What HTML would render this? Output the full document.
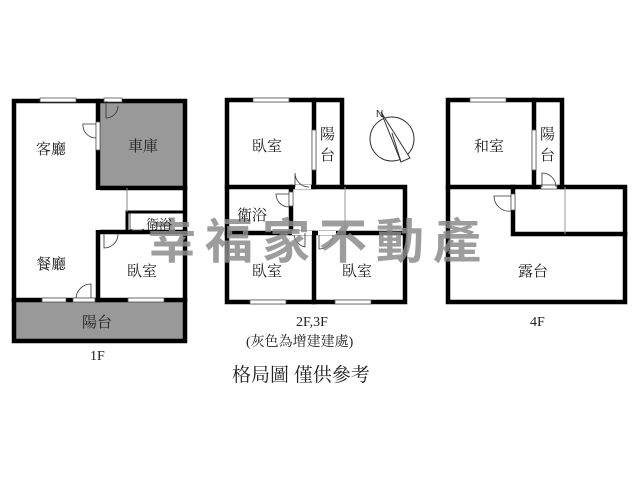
<!DOCTYPE html>
<html><head><meta charset="utf-8"><style>
body{margin:0;background:#fff}
svg text{font-family:"Liberation Serif","Noto Serif CJK SC","Noto Sans CJK TC",serif;fill:#222}
</style></head><body>
<svg width="640" height="480" viewBox="0 0 640 480" xmlns="http://www.w3.org/2000/svg">
<rect width="640" height="480" fill="#fff"/>
<!-- 1F -->
<rect x="98" y="100" width="87" height="88" fill="#999"/>
<rect x="12" y="300" width="173" height="42" fill="#999"/>
<g stroke="#000" stroke-width="4.5" fill="none" stroke-linecap="square">
<rect x="14" y="101" width="171" height="240"/>
<polyline points="98,101 98,188 185,188"/>
<line x1="14" y1="300" x2="185" y2="300"/>
<polyline points="98,300 98,232 185,232"/>
<line x1="127" y1="212" x2="185" y2="212" stroke-width="3"/>
</g>
<line x1="127" y1="188" x2="127" y2="212" stroke="#888" stroke-width="1"/>
<line x1="127" y1="212" x2="127" y2="230" stroke="#000" stroke-width="3"/>
<g fill="#fff" stroke="#555" stroke-width="0.8">
<rect x="40" y="98" width="36" height="4"/>
<rect x="104" y="98" width="18" height="4"/>
<rect x="96" y="122" width="4" height="28"/>
<rect x="42" y="298" width="24" height="4"/>
<rect x="73" y="298" width="22" height="4"/>
<rect x="128" y="298" width="36" height="4"/>
<rect x="96" y="190" width="4" height="40" stroke="none"/>
</g>
<g fill="none" stroke="#333" stroke-width="0.8">
<path d="M106 101 V118 A12 12 0 0 0 118 106"/>
<path d="M96 124 H83 A13 13 0 0 0 96 138"/>
<path d="M130 213 V229 A14 14 0 0 0 144 229"/>
<path d="M104 234 V248 A14 14 0 0 0 118 234"/>
<path d="M91 298 V284 A15 15 0 0 0 76 298"/>
</g>
<!-- 2F -->
<g stroke="#000" stroke-width="4.5" fill="none" stroke-linecap="square">
<polyline points="227,100 342,100 342,187 405,187 405,302 227,302 227,100"/>
<line x1="314" y1="100" x2="314" y2="187"/>
<line x1="227" y1="187" x2="342" y2="187"/>
<line x1="291" y1="187" x2="291" y2="233"/>
<line x1="227" y1="233" x2="405" y2="233"/>
<line x1="314" y1="233" x2="314" y2="302"/>
</g>
<line x1="345" y1="187" x2="345" y2="233" stroke="#999" stroke-width="1"/>
<g fill="#fff" stroke="#555" stroke-width="0.8">
<rect x="253" y="98" width="36" height="4"/>
<rect x="312" y="130" width="4" height="40"/>
<rect x="295" y="185" width="16" height="4" stroke="none"/>
<rect x="289" y="192" width="4" height="14"/>
<rect x="292" y="231" width="20" height="4" stroke="none"/>
<rect x="318" y="231" width="18" height="4" stroke="none"/>
<rect x="250" y="300" width="36" height="4"/>
<rect x="335" y="300" width="36" height="4"/>
</g>
<g fill="none" stroke="#333" stroke-width="0.8">
<path d="M295 187 V173 A14 14 0 0 0 309 187"/>
<path d="M289 194 H276 A13 13 0 0 0 289 207"/>
<path d="M294 235 A14 14 0 0 0 305 247 V233"/>
<path d="M319 235 V249 A14 14 0 0 0 333 235"/>
</g>
<!-- compass -->
<g stroke="#333" fill="none" stroke-width="1">
<circle cx="392" cy="139" r="22"/>
<path d="M381 112 L410 158 L401 162 Z" fill="#fff"/>
<line x1="392" y1="133" x2="401" y2="162" />
</g>
<text x="376" y="117" font-size="10" style="font-family:'Liberation Sans',sans-serif">N</text>
<!-- 4F -->
<g stroke="#000" stroke-width="4.5" fill="none" stroke-linecap="square">
<polyline points="448,100 562,100 562,187 625,187 625,302 448,302 448,100"/>
<line x1="534" y1="100" x2="534" y2="187"/>
<line x1="448" y1="187" x2="562" y2="187"/>
<polyline points="513,187 513,234 625,234"/>
</g>
<line x1="565" y1="187" x2="565" y2="234" stroke="#999" stroke-width="1"/>
<g fill="#fff" stroke="#555" stroke-width="0.8">
<rect x="470" y="98" width="36" height="4"/>
<rect x="532" y="130" width="4" height="40"/>
<rect x="541" y="185" width="16" height="4"/>
<rect x="511" y="194" width="4" height="16"/>
</g>
<g fill="none" stroke="#333" stroke-width="0.8">
<path d="M542 187 V173 A14 14 0 0 1 556 187"/>
<path d="M511 196 H494 A15 15 0 0 0 511 211"/>
</g>
<!-- watermark -->
<text x="148" y="258" font-size="48" font-weight="bold" style="font-family:'Noto Sans CJK TC',sans-serif;fill:#8c8c8c;opacity:0.85" letter-spacing="9">幸福家不動產</text>
<!-- labels -->
<g font-size="15">
<text x="36" y="154">客廳</text>
<text x="128" y="151">車庫</text>
<text x="36" y="269">餐廳</text>
<text x="127" y="276">臥室</text>
<text x="82" y="327">陽台</text>
<text x="146" y="229" font-size="13">衛浴</text>
<text x="252" y="151">臥室</text>
<text x="320" y="139">陽</text><text x="320" y="160">台</text>
<text x="237" y="220">衛浴</text>
<text x="252" y="276">臥室</text>
<text x="342" y="276">臥室</text>
<text x="474" y="151">和室</text>
<text x="540" y="139">陽</text><text x="540" y="160">台</text>
<text x="518" y="276">露台</text>
<text x="90" y="360" font-size="14">1F</text>
<text x="296" y="326" font-size="14">2F,3F</text>
<text x="530" y="326" font-size="14">4F</text>
<text x="246" y="346" font-size="14">(灰色為增建建處)</text>
<text x="232" y="381" font-size="19">格局圖 僅供參考</text>
</g>
</svg>
</body></html>
